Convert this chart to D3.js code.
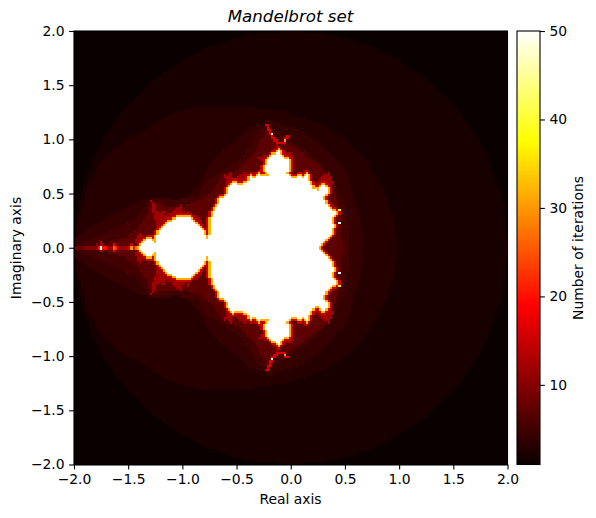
<!DOCTYPE html>
<meta charset="utf-8">
<style>
html, body { margin: 0; padding: 0; background: #fff; }
text { font-family: "DejaVu Sans", sans-serif; fill: #000; }
</style>
<body>
<script src="https://d3js.org/d3.v7.min.js"></script>
<svg id="chart" width="596" height="518"></svg>
<script>

// outlines, upper half only, [real, imag]
var level2Outline = [[-2,0],[-1.99,.2],[-1.95,.45],[-1.89,.65],[-1.8,.87],[-1.69,1.07],[-1.56,1.25],[-1.41,1.41],[-1.22,1.58],[-1,1.73],[-.76,1.85],[-.5,1.94],[-.25,1.98],[0,2],[.25,1.98],[.5,1.94],[.76,1.85],[1,1.73],[1.22,1.58],[1.41,1.41],[1.58,1.22],[1.73,1],[1.85,.76],[1.93,.5],[1.98,.25],[2,0]];
var level3Outline = [[-2,0],[-1.98,.18],[-1.88,.56],[-1.79,.72],[-1.69,.87],[-1.51,1.01],[-1.35,1.085],[-1.2,1.19],[-1.05,1.25],[-.9,1.29],[-.74,1.305],[-.58,1.31],[-.34,1.29],[-.1,1.26],[.09,1.205],[.25,1.15],[.39,1.085],[.54,.97],[.67,.835],[.79,.66],[.89,.465],[.95,.25],[.99,0]];
var level4Outline = [[-2,0],[-1.98,.1],[-1.785,.23],[-1.565,.35],[-1.38,.44],[-1.2,.46],[-.99,.44],[-.86,.56],[-.74,.78],[-.62,.9],[-.53,.965],[-.37,1.11],[-.19,1.18],[.09,1.085],[.27,.965],[.455,.78],[.54,.62],[.595,.41],[.65,.2],[.67,0]];
var level5Outline = [[-2,.015],[-1.655,.165],[-1.415,.285],[-1.34,.4],[-1.295,.46],[-1.065,.44],[-.86,.485],[-.77,.625],[-.63,.71],[-.44,.835],[-.33,1.04],[-.235,1.14],[0,.99],[.18,.87],[.32,.715],[.41,.595],[.48,.43],[.52,.285],[.545,.14],[.55,0]];
var level7Outline = [[-1.85,.01],[-1.525,.09],[-1.415,.18],[-1.33,.3],[-1.295,.44],[-1.185,.39],[-.975,.39],[-.835,.44],[-.725,.515],[-.63,.67],[-.465,.735],[-.33,.88],[-.225,1.09],[-.115,.995],[.07,.9],[.225,.79],[.365,.67],[.43,.45],[.455,.255],[.475,0]];
var fringeOutline = [[-1.42,0],[-1.435,.07],[-1.395,.135],[-1.36,.1],[-1.325,.12],[-1.27,.11],[-1.23,.18],[-1.25,.255],[-1.27,.33],[-1.295,.44],[-1.24,.39],[-1.22,.31],[-1.18,.36],[-1.15,.31],[-1.09,.33],[-1.05,.37],[-1.01,.395],[-.98,.32],[-.95,.35],[-.91,.31],[-.89,.31],[-.815,.24],[-.78,.145],[-.76,.09],[-.74,.2],[-.715,.275],[-.725,.35],[-.67,.375],[-.65,.485],[-.575,.55],[-.63,.69],[-.58,.66],[-.53,.72],[-.53,.625],[-.47,.67],[-.42,.71],[-.38,.66],[-.33,.71],[-.28,.67],[-.26,.68],[-.235,.715],[-.26,.78],[-.31,.835],[-.235,.855],[-.17,.88],[-.125,.965],[-.07,.9],[.025,.855],[0,.78],[-.015,.67],[.05,.69],[.115,.7],[.15,.73],[.18,.63],[.21,.58],[.28,.65],[.345,.7],[.41,.595],[.345,.515],[.335,.44],[.44,.365],[.4,.32],[.43,.285],[.41,.22],[.44,.19],[.365,.1],[.27,0]];
var setOutline = [[-1.4,0],[-1.38,.04],[-1.33,.08],[-1.28,.07],[-1.25,.03],[-1.24,.09],[-1.2,.17],[-1.15,.22],[-1.09,.26],[-1.03,.285],[-1,.28],[-.97,.285],[-.91,.265],[-.86,.22],[-.82,.17],[-.78,.1],[-.76,.05],[-.75,.12],[-.74,.23],[-.72,.31],[-.7,.37],[-.67,.4],[-.655,.45],[-.62,.47],[-.59,.51],[-.57,.57],[-.53,.6],[-.49,.58],[-.46,.57],[-.43,.6],[-.39,.61],[-.37,.65],[-.33,.64],[-.29,.67],[-.25,.65],[-.2,.67],[-.17,.65],[-.23,.7],[-.235,.745],[-.21,.83],[-.15,.865],[-.115,.9],[-.08,.855],[-.03,.81],[-.015,.745],[-.04,.68],[0,.65],[.04,.64],[.07,.67],[.11,.64],[.15,.67],[.18,.6],[.21,.55],[.25,.53],[.28,.57],[.32,.58],[.345,.515],[.3,.46],[.33,.4],[.365,.36],[.43,.33],[.38,.27],[.4,.19],[.38,.15],[.36,.1],[.32,.07],[.29,.035],[.255,0]];

var outlines = [setOutline, fringeOutline, level7Outline, level5Outline, level4Outline, level3Outline, level2Outline];
var outlineLevels = [50, 12, 7, 5, 4, 3, 2];
var backgroundLevel = 1;
var edgeLevel = 32;
var outerEdgeLevel = 15;

// thin arms above the bulb, and the bright pixels on them
var filaments = [
    [[-.125,.965],[-.17,1.03],[-.21,1.11],[-.225,1.13]],
    [[-.125,.965],[-.07,.965],[-.025,1.02]]
];
var filamentLevel = 16;
var sparkleX = [-.17, .455, .44, -.05];
var sparkleY = [1.04, .345, .235, .985];
var sparkleLevel = [50, 38, 50, 30];

// the line along the real axis left of the set
var antennaX = [-2, -1.9, -1.78, -1.76, -1.74, -1.7, -1.64, -1.62, -1.6, -1.5, -1.48, -1.46, -1.44];
var antennaLevel = [8, 10, 20, 50, 20, 12, 26, 22, 12, 15, 30, 18, 28];
var smearX = [-1.76, -1.74, -1.78, -1.63, -1.48];
var smearHeight = [.05, .03, .03, .04, .03];
var smearLevel = [14, 11, 11, 18, 14];

var axisTicks = [-2, -1.5, -1, -.5, 0, .5, 1, 1.5, 2];
var barTicks = [10, 20, 30, 40, 50];
var minLevel = 1;
var maxLevel = 50;

var hotStops = [0, .365, .746, 1];
var hotColors = ["#0b0000", "#ff0000", "#ffff00", "#ffffff"];

var cellCount = 200;
var cellSize = 4 / cellCount;

var x = d3.scaleLinear().domain([-2, 2]).range([74, 507.5]);
var y = d3.scaleLinear().domain([-2, 2]).range([464.5, 31]);
var barY = d3.scaleLinear().domain([minLevel, maxLevel]).range([464.5, 31]);
var hot = d3.scaleLinear().domain(hotStops).range(hotColors);
var levelT = d3.scaleLinear().domain([minLevel, maxLevel]).range([0, 1]);

function color(n) { return hot(levelT(n)); }

// mirror the upper half into a closed polygon
function mirrored(points) {
    var lower = points.slice().reverse().map(function(p) { return [p[0], -p[1]]; });
    return points.concat(lower);
}

var polygons = outlines.map(mirrored);

var grid = [];
for (var j = 0; j < cellCount; j++) {
    var row = [];
    for (var i = 0; i < cellCount; i++) {
        var p = [-2 + (i + .5) * cellSize, -2 + (j + .5) * cellSize];
        var n = backgroundLevel;
        for (var k = 0; k < polygons.length; k++) {
            if (d3.polygonContains(polygons[k], p)) { n = outlineLevels[k]; break; }
        }
        row.push(n);
    }
    grid.push(row);
}

function setCell(re, im, n) {
    var i = Math.floor((re + 2) / cellSize), j = Math.floor((im + 2) / cellSize);
    if (i < 0 || j < 0 || i >= cellCount || j >= cellCount) return;
    if (grid[j][i] < n) grid[j][i] = n;
}

function touches(i, j, n) {
    return grid[j][i-1] == n || grid[j][i+1] == n || grid[j-1][i] == n || grid[j+1][i] == n;
}

// rings around the set: orange first, then red
function ring(target, level) {
    var found = [];
    for (var j = 1; j < cellCount - 1; j++) {
        for (var i = 1; i < cellCount - 1; i++) {
            if (grid[j][i] < level && touches(i, j, target)) found.push([i, j]);
        }
    }
    found.forEach(function(e) { grid[e[1]][e[0]] = level; });
}
ring(maxLevel, edgeLevel);
ring(edgeLevel, outerEdgeLevel);

filaments.forEach(function(line) {
    d3.pairs(line).forEach(function(seg) {
        d3.range(0, 1.001, .05).forEach(function(s) {
            var re = seg[0][0] + (seg[1][0] - seg[0][0]) * s;
            var im = seg[0][1] + (seg[1][1] - seg[0][1]) * s;
            setCell(re, im, filamentLevel);
            setCell(re, -im, filamentLevel);
        });
    });
});

sparkleX.forEach(function(re, s) {
    setCell(re, sparkleY[s], sparkleLevel[s]);
    setCell(re, -sparkleY[s], sparkleLevel[s]);
});

var antennaBisect = d3.bisector(function(d) { return d; }).right;
for (var i = 0; i < cellCount; i++) {
    var re = -2 + (i + .5) * cellSize;
    if (re > -1.42) break;
    var lev = antennaLevel[antennaBisect(antennaX, re) - 1];
    setCell(re, .005, lev);
    setCell(re, -.005, lev);
}
smearX.forEach(function(re, s) {
    d3.range(0, smearHeight[s], cellSize / 2).forEach(function(im) {
        setCell(re, im, smearLevel[s]);
        setCell(re, -im, smearLevel[s]);
    });
});

// merge each row into runs so there are fewer rects
var runs = [];
grid.forEach(function(row, j) {
    var start = 0;
    for (var i = 1; i <= cellCount; i++) {
        if (i == cellCount || row[i] != row[start]) {
            runs.push({ j: j, from: start, to: i, n: row[start] });
            start = i;
        }
    }
});

var svg = d3.select("#chart");

svg.append("g").attr("shape-rendering", "crispEdges")
    .selectAll("rect").data(runs).join("rect")
    .attr("x", function(d) { return x(-2 + d.from * cellSize); })
    .attr("width", function(d) { return x(-2 + d.to * cellSize) - x(-2 + d.from * cellSize); })
    .attr("y", function(d) { return y(-2 + (d.j + 1) * cellSize); })
    .attr("height", function(d) { return y(-2 + d.j * cellSize) - y(-2 + (d.j + 1) * cellSize); })
    .attr("fill", function(d) { return color(d.n); });

var fmt = d3.format(".1f");

function styleAxis(g) {
    g.selectAll("text").style("font-size", "13.9px");
    g.selectAll("line").attr("stroke-width", 1.1).attr("stroke", "#000");
    g.selectAll("path").attr("stroke-width", 1.1).attr("stroke", "#000");
}

svg.append("g").attr("transform", "translate(0,464.5)")
    .call(d3.axisBottom(x).tickValues(axisTicks).tickFormat(fmt).tickSize(4.9).tickSizeOuter(0).tickPadding(4.5))
    .call(styleAxis);
svg.append("g").attr("transform", "translate(74,0)")
    .call(d3.axisLeft(y).tickValues(axisTicks).tickFormat(fmt).tickSize(4.9).tickSizeOuter(0).tickPadding(4.5))
    .call(styleAxis);

svg.append("rect")
    .attr("x", 74).attr("y", 31).attr("width", 433.5).attr("height", 433.5)
    .attr("fill", "none").attr("stroke", "#000").attr("stroke-width", 1.1);

// colorbar
var barSteps = d3.range(minLevel, maxLevel, .2);
svg.append("g").attr("shape-rendering", "crispEdges")
    .selectAll("rect").data(barSteps).join("rect")
    .attr("x", 517).attr("width", 23)
    .attr("y", function(d) { return barY(d + .2); })
    .attr("height", function(d) { return barY(d) - barY(d + .2) + .5; })
    .attr("fill", function(d) { return color(d); });

svg.append("rect")
    .attr("x", 517).attr("y", 31).attr("width", 23).attr("height", 433.5)
    .attr("fill", "none").attr("stroke", "#000").attr("stroke-width", 1.1);

svg.append("g").attr("transform", "translate(540,0)")
    .call(d3.axisRight(barY).tickValues(barTicks).tickSize(4.9).tickSizeOuter(0).tickPadding(4.5))
    .call(styleAxis)
    .select(".domain").remove();

svg.append("text").attr("x", 290.5).attr("y", 22)
    .attr("text-anchor", "middle").style("font-size", "16.7px").style("font-style", "italic")
    .text("Mandelbrot set");
svg.append("text").attr("x", 290.5).attr("y", 504)
    .attr("text-anchor", "middle").style("font-size", "13.9px")
    .text("Real axis");
svg.append("text").attr("transform", "translate(21,248) rotate(-90)")
    .attr("text-anchor", "middle").style("font-size", "13.9px")
    .text("Imaginary axis");
svg.append("text").attr("transform", "translate(583,248) rotate(-90)")
    .attr("text-anchor", "middle").style("font-size", "13.9px")
    .text("Number of iterations");

</script>
